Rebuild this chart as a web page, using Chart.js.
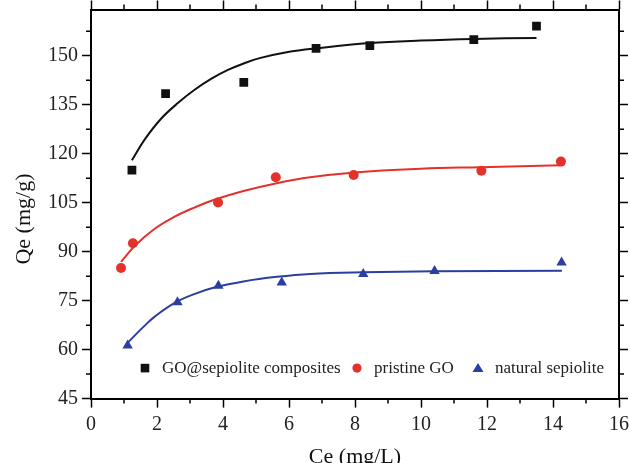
<!DOCTYPE html>
<html>
<head>
<meta charset="utf-8">
<script src="https://cdn.jsdelivr.net/npm/chart.js@4.4.1/dist/chart.umd.min.js"></script>
<style>
  html, body { margin: 0; padding: 0; background: #fff; }
  #wrap { width: 630px; height: 463px; position: relative; }
</style>
</head>
<body>
<div id="wrap"><canvas id="isotherm"></canvas></div>
<script>
// measured points, Ce (mg/L) vs Qe (mg/g)
const compositeCe = [1.24, 2.26, 4.63, 6.82, 8.45, 11.6, 13.5];
const compositeQe = [115.0, 138.4, 141.9, 152.3, 153.1, 155.0, 159.1];
const grapheneCe = [0.91, 1.27, 3.85, 5.6, 7.96, 11.83, 14.24];
const grapheneQe = [85.0, 92.6, 105.1, 112.8, 113.5, 114.8, 117.6];
const sepioliteCe = [1.11, 2.62, 3.86, 5.78, 8.25, 10.41, 14.26];
const sepioliteQe = [61.3, 74.5, 79.6, 80.6, 83.2, 84.1, 86.7];

// fitted curves
const compositeFitCe = [1.24, 1.63, 2.13, 2.64, 3.14, 3.65, 4.15, 4.66, 5.11, 5.93, 6.84, 8.45, 10.0, 11.6, 13.5];
const compositeFitQe = [118.0, 124.4, 130.8, 135.6, 139.6, 143.0, 145.7, 147.8, 149.3, 151.1, 152.3, 153.9, 154.7, 155.2, 155.5];
const grapheneFitCe = [0.91, 1.33, 1.94, 2.55, 3.15, 3.76, 4.62, 5.63, 6.64, 8.0, 10.0, 11.8, 14.24];
const grapheneFitQe = [86.9, 91.8, 97.1, 100.8, 103.6, 106.0, 108.6, 111.0, 112.8, 114.3, 115.4, 115.9, 116.5];
const sepioliteFitCe = [1.08, 1.58, 1.94, 2.55, 3.15, 3.76, 4.62, 5.63, 6.64, 8.25, 10.4, 14.27];
const sepioliteFitQe = [61.8, 66.9, 70.2, 74.4, 77.1, 79.1, 80.9, 82.3, 83.2, 83.7, 84.0, 84.2];

const seriesLabels = ['GO@sepiolite composites', 'pristine GO', 'natural sepiolite'];

// axis ticks
const xMajor = [0, 2, 4, 6, 8, 10, 12, 14, 16];
const xMinor = [1, 3, 5, 7, 9, 11, 13, 15];
const yMajor = [45, 60, 75, 90, 105, 120, 135, 150];
const yMinor = [52.5, 67.5, 82.5, 97.5, 112.5, 127.5, 142.5, 157.5];

const BLACK = '#111111';
const RED = '#e3322b';
const BLUE = '#2c3ea0';
const SERIF = "'Liberation Serif', 'Times New Roman', serif";

const pairs = (xs, ys) => xs.map((x, i) => ({ x: x, y: ys[i] }));

function pointSet(label, xs, ys, color, style, radius) {
    return {
        label: label,
        data: pairs(xs, ys),
        showLine: false,
        pointStyle: style,
        pointRadius: radius,
        pointBackgroundColor: color,
        pointBorderColor: color,
        pointBorderWidth: 0,
        order: 1
    };
}

function fitSet(xs, ys, color) {
    return {
        label: '',
        data: pairs(xs, ys),
        showLine: true,
        borderColor: color,
        borderWidth: 2,
        pointRadius: 0,
        tension: 0.4,
        order: 2
    };
}

const setTicks = (values) => (scale) => {
    scale.ticks = values.map(v => ({ value: v }));
};

// labels never reach the plot edges here, so drop the extra edge padding
const noEdgePadding = (scale) => {
    scale.paddingTop = 0;
    scale.paddingBottom = 0;
    scale.paddingLeft = 0;
    scale.paddingRight = 0;
};

const tickGrid = {
    drawOnChartArea: false,
    drawTicks: true,
    tickLength: 9,
    tickWidth: 1.5,
    tickColor: '#000'
};
const frame = { display: true, color: '#000', width: 2 };

// short outward minor ticks on all four sides
const minorTicks = {
    id: 'minorTicks',
    afterDraw(chart) {
        const { ctx, chartArea: a, scales } = chart;
        ctx.save();
        ctx.strokeStyle = '#000';
        ctx.lineWidth = 1.5;
        ctx.beginPath();
        xMinor.forEach(v => {
            const px = scales.x.getPixelForValue(v);
            ctx.moveTo(px, a.bottom); ctx.lineTo(px, a.bottom + 5);
            ctx.moveTo(px, a.top); ctx.lineTo(px, a.top - 5);
        });
        yMinor.forEach(v => {
            const py = scales.y.getPixelForValue(v);
            ctx.moveTo(a.left, py); ctx.lineTo(a.left - 5, py);
            ctx.moveTo(a.right, py); ctx.lineTo(a.right + 5, py);
        });
        ctx.stroke();
        ctx.restore();
    }
};

// y title sits a bit below the middle of the axis in the original
const yTitle = {
    id: 'yTitle',
    afterDraw(chart) {
        const { ctx, chartArea: a } = chart;
        ctx.save();
        ctx.translate(24, (a.top + a.bottom) / 2 + 15);
        ctx.rotate(-Math.PI / 2);
        ctx.font = '22px ' + SERIF;
        ctx.fillStyle = '#111';
        ctx.textAlign = 'center';
        ctx.textBaseline = 'middle';
        ctx.fillText('Qe (mg/g)', 0, 0);
        ctx.restore();
    }
};

// single-row legend inside the plot, just above the x axis
const innerLegend = {
    id: 'innerLegend',
    afterDatasetsDraw(chart) {
        const { ctx, chartArea: a } = chart;
        const y = a.bottom - 30.5;
        const items = [
            { off: 54, color: BLACK, shape: 'square' },
            { off: 266, color: RED, shape: 'circle' },
            { off: 387, color: BLUE, shape: 'triangle' }
        ];
        ctx.save();
        ctx.font = '17px ' + SERIF;
        ctx.textBaseline = 'middle';
        ctx.textAlign = 'left';
        items.forEach((it, i) => {
            const x = a.left + it.off;
            ctx.fillStyle = it.color;
            ctx.beginPath();
            if (it.shape === 'square') {
                ctx.rect(x - 4.3, y - 4.3, 8.6, 8.6);
            } else if (it.shape === 'circle') {
                ctx.arc(x, y, 4.6, 0, Math.PI * 2);
            } else {
                ctx.moveTo(x, y - 5);
                ctx.lineTo(x + 5.5, y + 4);
                ctx.lineTo(x - 5.5, y + 4);
                ctx.closePath();
            }
            ctx.fill();
            ctx.fillStyle = '#222';
            ctx.fillText(seriesLabels[i], x + 17, y + 0.5);
        });
        ctx.restore();
    }
};

new Chart(document.getElementById('isotherm'), {
    type: 'scatter',
    data: {
        datasets: [
            pointSet(seriesLabels[0], compositeCe, compositeQe, BLACK, 'rect', 6.2),
            pointSet(seriesLabels[1], grapheneCe, grapheneQe, RED, 'circle', 5),
            pointSet(seriesLabels[2], sepioliteCe, sepioliteQe, BLUE, 'triangle', 6),
            fitSet(compositeFitCe, compositeFitQe, BLACK),
            fitSet(grapheneFitCe, grapheneFitQe, RED),
            fitSet(sepioliteFitCe, sepioliteFitQe, BLUE)
        ]
    },
    options: {
        responsive: true,
        maintainAspectRatio: false,
        animation: false,
        layout: { padding: { left: 44, right: 2, top: 0.5, bottom: -7 } },
        plugins: {
            legend: { display: false },
            tooltip: { enabled: false }
        },
        scales: {
            x: {
                type: 'linear',
                position: 'bottom',
                min: 0,
                max: 16,
                afterBuildTicks: setTicks(xMajor),
                afterFit: noEdgePadding,
                grid: tickGrid,
                border: frame,
                ticks: { color: '#222', padding: 5, font: { family: SERIF, size: 20 } },
                title: {
                    display: true,
                    text: 'Ce (mg/L)',
                    color: '#111',
                    padding: { top: 2, bottom: 0 },
                    font: { family: SERIF, size: 22 }
                }
            },
            x2: {
                type: 'linear',
                position: 'top',
                min: 0,
                max: 16,
                afterBuildTicks: setTicks(xMajor),
                afterFit: noEdgePadding,
                grid: tickGrid,
                border: frame,
                ticks: { display: false }
            },
            y: {
                type: 'linear',
                position: 'left',
                min: 45,
                max: 164.2,
                afterBuildTicks: setTicks(yMajor),
                afterFit: noEdgePadding,
                grid: tickGrid,
                border: frame,
                ticks: { color: '#222', padding: 4, font: { family: SERIF, size: 20 } }
            },
            y2: {
                type: 'linear',
                position: 'right',
                min: 45,
                max: 164.2,
                afterBuildTicks: setTicks(yMajor),
                afterFit: noEdgePadding,
                grid: tickGrid,
                border: frame,
                ticks: { display: false }
            }
        }
    },
    plugins: [minorTicks, yTitle, innerLegend]
});
</script>
</body>
</html>
